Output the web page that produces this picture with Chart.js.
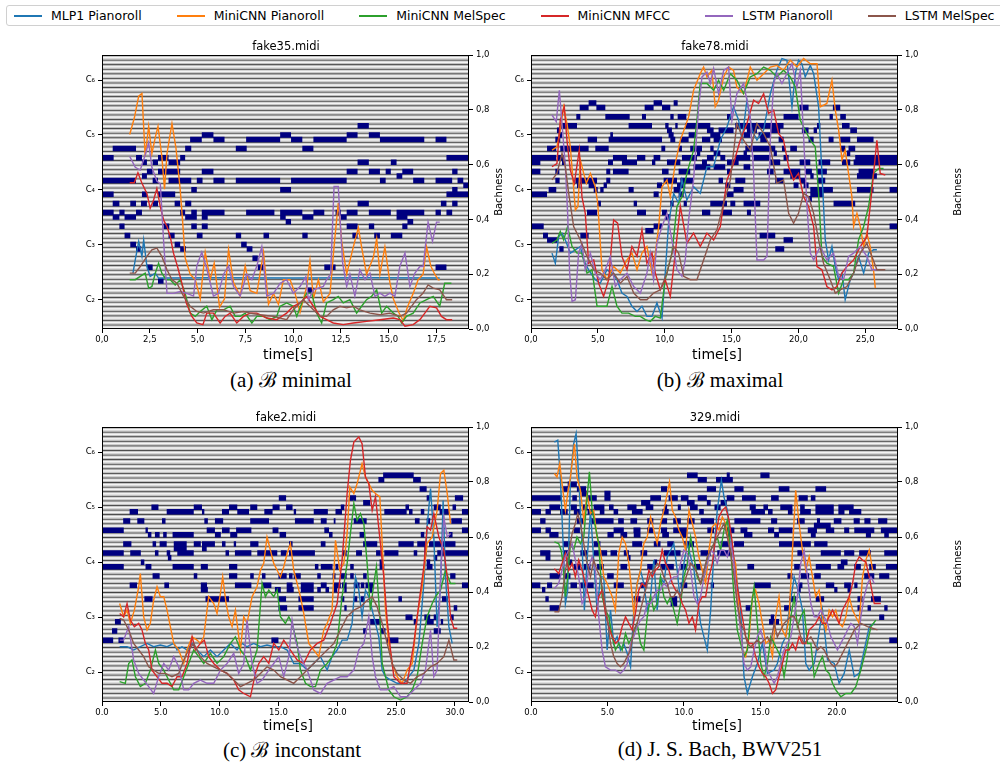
<!DOCTYPE html>
<html>
<head>
<meta charset="utf-8">
<script src="https://cdn.jsdelivr.net/npm/chart.js@4.4.1/dist/chart.umd.min.js"></script>
<style>
  body { margin: 0; background: #fff; width: 1000px; height: 765px; overflow: hidden; position: relative; font-family: "DejaVu Sans", sans-serif; }
  canvas { position: absolute; }
  .txt { position: absolute; transform: translate(-50%, -50%); white-space: nowrap; color: #000; }
  .title { font-size: 11.5px; }
  .xlabel { font-size: 14px; }
  .ylabel { font-size: 10px; transform: translate(-50%, -50%) rotate(-90deg); }
  .caption { font-family: "Liberation Serif", "DejaVu Serif", serif; font-size: 21px; }
  #legend { position: absolute; left: 6px; top: 5px; width: 1010px; height: 21px; border: 1px solid #d0d0d0; border-radius: 3px; display: flex; align-items: center; font-size: 12.5px; box-sizing: border-box; padding-left: 7px; white-space: nowrap; }
  #legend .item { display: flex; align-items: center; margin-right: 35px; flex-shrink: 0; white-space: nowrap; }
  #legend .swatch { width: 28px; height: 2px; margin-right: 9px; flex-shrink: 0; }
</style>
</head>
<body>
<div id="legend"></div>

<canvas id="chart-a" width="439" height="302" style="left:62px;top:45px"></canvas>
<canvas id="chart-b" width="439" height="302" style="left:491px;top:45px"></canvas>
<canvas id="chart-c" width="439" height="303" style="left:62px;top:417px"></canvas>
<canvas id="chart-d" width="439" height="303" style="left:491px;top:417px"></canvas>

<div class="txt title" style="left:286px;top:46px">fake35.midi</div>
<div class="txt title" style="left:715px;top:46px">fake78.midi</div>
<div class="txt title" style="left:286px;top:417px">fake2.midi</div>
<div class="txt title" style="left:715px;top:417px">329.midi</div>

<div class="txt xlabel" style="left:288px;top:354px">time[s]</div>
<div class="txt xlabel" style="left:717px;top:354px">time[s]</div>
<div class="txt xlabel" style="left:288px;top:725px">time[s]</div>
<div class="txt xlabel" style="left:717px;top:725px">time[s]</div>

<div class="txt ylabel" style="left:498px;top:192px">Bachness</div>
<div class="txt ylabel" style="left:957px;top:192px">Bachness</div>
<div class="txt ylabel" style="left:498px;top:564px">Bachness</div>
<div class="txt ylabel" style="left:957px;top:564px">Bachness</div>

<div class="txt caption" style="left:291px;top:379px">(a) ℬ minimal</div>
<div class="txt caption" style="left:720px;top:379px">(b) ℬ maximal</div>
<div class="txt caption" style="left:292px;top:749px">(c) ℬ inconstant</div>
<div class="txt caption" style="left:720px;top:749px">(d) J. S. Bach, BWV251</div>

<script>
const seriesNames = ["MLP1 Pianoroll", "MiniCNN Pianoroll", "MiniCNN MelSpec", "MiniCNN MFCC", "LSTM Pianoroll", "LSTM MelSpec"];
const seriesColors = ["#1f77b4", "#ff7f0e", "#2ca02c", "#d62728", "#9467bd", "#8c564b"];
const pitchTicks = [36, 48, 60, 72, 84];
const pitchLabels = ["C₂", "C₃", "C₄", "C₅", "C₆"];
const bachTicks = [0, 0.2, 0.4, 0.6, 0.8, 1.0];

// ---------- (a) fake35.midi ----------
const aTimeTicks = [0, 2.5, 5, 7.5, 10, 12.5, 15, 17.5];
// notes: [start, end, pitch]
const aNotes = [
  [13.37,13.96,74],
  [5.22,5.83,72],[9.32,9.89,72],[12.8,13.37,72],[13.96,14.54,72],
  [4.61,5.22,71],[5.83,6.41,71],[7.54,9.32,71],[9.89,10.48,71],[11.06,12.8,71],[14.54,16.86,71],[17.45,18.02,71],
  [0.56,1.78,69],[4.35,4.67,69],[7.0,7.57,69],[10.48,11.06,69],
  [0,0.61,67],[1.78,2.09,67],[2.93,3.48,67],[4.09,4.35,67],[18.02,19.2,67],
  [2.09,2.35,66],[2.65,2.93,66],[3.48,4.09,66],[13.37,13.96,66],[15.11,15.41,66],
  [2.35,2.65,64],[2.93,4.09,64],[5.22,5.83,64],[12.8,13.37,64],[13.96,14.54,64],[14.84,15.11,64],[15.71,16.28,64],[18.32,18.6,64],
  [2.09,2.35,63],[15.41,15.71,63],
  [0,1.78,62],[2.65,2.93,62],[3.48,4.67,62],[4.96,5.26,62],[5.83,6.41,62],[7.0,9.32,62],[9.89,12.8,62],[14.54,14.84,62],[16.28,16.86,62],[17.45,18.32,62],[18.6,18.9,62],
  [18.9,19.2,61],
  [4.67,4.96,60],[9.32,9.89,60],[18.32,18.6,60],
  [0,0.61,59],[2.09,2.35,59],[2.93,3.83,59],[18.02,19.2,59],
  [0.56,0.91,57],[1.48,1.78,57],[2.04,2.35,57],[2.65,2.93,57],[3.8,4.09,57],[4.35,4.67,57],[13.37,13.96,57],[17.73,18.02,57],[18.32,18.6,57],
  [0,0.61,55],[0.91,1.18,55],[1.78,2.09,55],[4.09,4.35,55],[4.67,4.96,55],[5.22,6.41,55],[7.54,9.02,55],[9.32,10.48,55],[11.06,11.63,55],[12.22,12.5,55],[12.8,13.37,55],[13.96,15.11,55],[15.41,16.86,55],[17.45,17.73,55],[18.02,18.32,55],
  [0.56,0.91,54],[1.18,1.78,54],[4.35,4.96,54],[5.22,5.53,54],[9.32,9.61,54],[10.48,11.06,54],[12.5,12.8,54],[15.41,15.98,54],
  [9.61,9.89,53],[15.98,16.28,53],
  [0.91,1.18,52],[3.22,3.52,52],[4.67,4.96,52],[5.22,5.53,52],[12.8,13.37,52],[13.96,14.24,52],[15.71,15.98,52],
  [1.18,1.48,50],[3.48,3.8,50],[4.96,5.26,50],[7.0,7.28,50],[8.45,8.74,50],[10.48,10.76,50],[13.1,13.37,50],[14.24,14.54,50],[15.11,15.71,50],
  [1.48,1.78,48],[3.8,4.09,48],[7.28,7.57,48],
  [1.78,2.05,47],[4.09,4.39,47],[7.57,7.87,47],
  [7.87,8.15,45],
  [2.35,2.65,43],[8.15,8.45,43],[11.63,12.22,43],[17.45,18.02,43],
  [2.93,3.22,40],
  [10.76,11.06,38]
];
// series: [time, bachness]
const aMlp = [[1.62,0.204],[1.74,0.252],[1.92,0.319],[2.09,0.265],[2.18,0.325],[2.35,0.228],[2.52,0.192],[2.79,0.204],[2.96,0.186],[3.22,0.186],[6.0,0.187],[10.0,0.186],[14.0,0.187],[17.67,0.186]];
const aCnnPiano = [[1.45,0.71],[1.69,0.77],[1.92,0.85],[2.09,0.86],[2.26,0.63],[2.44,0.74],[2.61,0.64],[2.79,0.70],[2.93,0.74],[3.13,0.63],[3.27,0.51],[3.40,0.64],[3.66,0.75],[3.87,0.66],[4.09,0.51],[4.21,0.40],[4.35,0.26],[4.61,0.20],[4.88,0.18],[5.14,0.11],[5.40,0.28],[5.66,0.18],[5.87,0.24],[6.15,0.08],[6.41,0.11],[6.62,0.29],[6.88,0.17],[7.23,0.12],[7.49,0.23],[7.75,0.14],[8.10,0.13],[8.45,0.28],[8.71,0.09],[8.97,0.13],[9.23,0.09],[9.49,0.18],[9.84,0.18],[10.10,0.13],[10.36,0.06],[10.71,0.155],[10.88,0.25],[11.06,0.11],[11.32,0.18],[11.58,0.10],[11.93,0.13],[12.14,0.30],[12.36,0.46],[12.54,0.32],[12.80,0.20],[13.15,0.30],[13.41,0.37],[13.58,0.30],[13.84,0.20],[14.19,0.26],[14.37,0.33],[14.54,0.20],[14.80,0.30],[15.06,0.17],[15.24,0.11],[15.53,0.06],[15.76,0.03],[15.98,0.08],[16.28,0.13],[16.54,0.18],[16.80,0.20],[16.98,0.30],[17.20,0.23],[17.41,0.20],[17.59,0.18],[17.67,0.18]];
const aCnnMel = [[1.45,0.18],[1.74,0.18],[2.0,0.192],[2.26,0.204],[2.44,0.149],[2.61,0.155],[2.79,0.204],[2.96,0.24],[3.13,0.204],[3.36,0.18],[3.57,0.18],[3.83,0.161],[4.09,0.18],[4.35,0.131],[4.61,0.058],[4.88,0.046],[5.14,0.064],[5.48,0.083],[5.75,0.034],[6.01,0.07],[6.36,0.07],[6.70,0.083],[6.97,0.046],[7.23,0.046],[7.49,0.058],[7.84,0.022],[8.10,0.046],[8.45,0.046],[8.79,0.034],[9.14,0.046],[9.32,0.083],[9.66,0.095],[10.01,0.083],[10.19,0.046],[10.45,0.095],[10.71,0.131],[10.97,0.131],[11.23,0.058],[11.49,0.022],[11.75,0.095],[12.10,0.107],[12.36,0.119],[12.62,0.095],[12.97,0.107],[13.32,0.058],[13.58,0.083],[13.84,0.107],[14.10,0.119],[14.37,0.143],[14.63,0.058],[14.89,0.083],[15.24,0.058],[15.50,0.046],[15.67,0.022],[15.93,0.046],[16.28,0.058],[16.63,0.095],[16.98,0.107],[17.33,0.119],[17.67,0.083],[17.93,0.167],[18.28,0.167]];
const aCnnMfcc = [[1.45,0.534],[1.69,0.534],[1.88,0.57],[2.09,0.532],[2.35,0.495],[2.52,0.441],[2.70,0.471],[2.87,0.513],[3.05,0.447],[3.22,0.398],[3.40,0.374],[3.57,0.337],[3.74,0.277],[3.95,0.228],[4.18,0.167],[4.41,0.095],[4.70,0.046],[4.96,0.022],[5.28,0.016],[5.48,0.058],[5.83,0.058],[6.18,0.022],[6.44,0.046],[6.70,0.058],[7.05,0.022],[7.40,0.046],[7.75,0.058],[8.10,0.058],[8.62,0.04],[9.14,0.034],[9.66,0.058],[10.01,0.083],[10.36,0.095],[10.71,0.119],[11.06,0.083],[11.41,0.046],[11.75,0.034],[12.10,0.022],[12.62,0.016],[13.15,0.022],[13.84,0.028],[14.54,0.034],[15.24,0.04],[15.58,0.034],[15.85,0.01],[16.28,0.016],[16.63,0.034],[16.89,0.058],[17.15,0.083],[17.50,0.077],[17.76,0.046],[18.02,0.034],[18.32,0.034]];
const aLstmPiano = [[1.45,0.63],[1.74,0.59],[2.0,0.58],[2.26,0.635],[2.44,0.68],[2.61,0.59],[2.87,0.54],[3.05,0.53],[3.22,0.325],[3.40,0.13],[3.74,0.13],[4.09,0.137],[4.44,0.13],[4.79,0.12],[4.96,0.23],[5.22,0.28],[5.48,0.22],[5.83,0.12],[6.09,0.13],[6.36,0.20],[6.62,0.23],[6.88,0.155],[7.23,0.12],[7.57,0.20],[7.84,0.18],[8.10,0.23],[8.36,0.30],[8.62,0.12],[8.97,0.13],[9.32,0.167],[9.66,0.18],[10.01,0.13],[10.36,0.155],[10.66,0.19],[10.80,0.107],[11.06,0.143],[11.58,0.155],[11.75,0.18],[11.96,0.20],[12.14,0.52],[12.36,0.52],[12.59,0.24],[12.80,0.155],[12.97,0.20],[13.23,0.12],[13.49,0.216],[13.76,0.18],[14.02,0.204],[14.28,0.119],[14.54,0.131],[14.80,0.119],[15.06,0.131],[15.32,0.119],[15.58,0.228],[15.85,0.277],[16.11,0.155],[16.37,0.204],[16.63,0.228],[16.80,0.228],[17.06,0.39],[17.29,0.32],[17.50,0.39],[17.67,0.39]];
const aLstmMel = [[1.45,0.204],[1.74,0.204],[2.0,0.228],[2.35,0.265],[2.61,0.289],[2.87,0.295],[3.13,0.265],[3.40,0.216],[3.66,0.18],[3.92,0.167],[4.27,0.119],[4.61,0.083],[4.96,0.064],[5.31,0.058],[5.83,0.07],[6.36,0.07],[6.88,0.058],[7.40,0.064],[7.75,0.058],[8.27,0.052],[8.97,0.046],[9.66,0.034],[10.01,0.07],[10.53,0.107],[11.06,0.07],[11.41,0.046],[11.75,0.046],[12.10,0.07],[12.45,0.083],[12.80,0.077],[13.15,0.083],[13.49,0.07],[14.02,0.058],[14.54,0.052],[15.06,0.058],[15.58,0.046],[15.93,0.058],[16.45,0.107],[16.80,0.131],[17.06,0.161],[17.33,0.149],[17.67,0.143],[18.02,0.107],[18.32,0.107]];

// ---------- (b) fake78.midi ----------
const bTimeTicks = [0, 5, 10, 15, 20, 25];
const bNotes = [
  [4.31,4.89,79],[9.17,9.8,79],[10.67,10.97,79],
  [3.64,4.31,78],[4.89,5.56,78],[8.5,9.17,78],[9.8,10.42,78],[20.09,20.76,78],[22.58,23.13,78],
  [3.39,3.69,76],[5.56,7.38,76],[8.3,8.6,76],[10.42,10.67,76],[10.97,11.62,76],[14.66,14.96,76],[18.89,20.01,76],[22.33,22.58,76],[23.13,23.55,76],
  [2.19,3.44,74],[7.3,9.05,74],[10.04,10.29,74],[10.79,10.97,74],[11.54,13.41,74],[15.28,18.89,74],[21.39,21.64,74],[23.26,23.83,74],
  [1.94,2.19,73],[10.17,10.54,73],[13.16,13.66,73],[14.03,15.15,73],[16.15,16.9,73],[17.9,18.64,73],[20.26,20.76,73],[21.14,21.39,73],[23.88,24.38,73],
  [2.07,2.32,72],[5.93,6.13,72],[10.29,10.67,72],[11.79,12.41,72],[13.41,14.16,72],[15.9,16.4,72],[17.02,17.9,72],
  [1.82,2.19,71],[4.24,4.94,71],[5.81,9.8,71],[10.42,10.79,71],[11.17,11.79,71],[12.79,13.41,71],[13.66,14.28,71],[17.15,17.65,71],[18.52,18.89,71],[20.76,21.14,71],[22.26,22.63,71],[23.13,23.88,71],[24.38,25.62,71],
  [1.2,1.89,69],[2.19,4.31,69],[4.81,5.81,69],[9.75,10.04,69],[11.04,11.29,69],[11.91,12.79,69],[13.41,13.66,69],[16.03,18.27,69],[18.77,19.02,69],[19.39,19.89,69],[23.13,23.5,69],[23.75,24.25,69],
  [12.41,12.66,68],[13.66,14.16,68],[15.9,16.15,68],[18.15,18.39,68],[23.63,23.88,68],
  [0,1.89,67],[1.99,2.44,67],[6.13,7.18,67],[7.93,8.55,67],[9.17,9.67,67],[11.29,12.41,67],[13.16,13.66,67],[14.16,14.53,67],[15.28,16.4,67],[16.65,17.9,67],[18.89,19.27,67],[24.25,27.45,67],
  [0,0.7,66],[2.32,2.57,66],[5.76,6.13,66],[6.8,7.93,66],[9.05,9.3,66],[10.17,11.17,66],[12.79,13.16,66],[14.66,15.53,66],[17.9,18.64,66],[20.09,20.89,66],[21.51,22.38,66],[23.26,23.88,66],[24.13,27.45,66],
  [12.16,13.41,65],[13.66,14.53,65],[15.9,16.4,65],
  [0,0.7,64],[1.82,2.12,64],[5.63,5.93,64],[6.13,7.3,64],[9.8,10.29,64],[11.04,11.91,64],[14.66,14.91,64],[17.65,18.15,64],[18.89,20.14,64],[20.51,21.01,64],[21.39,22.13,64],[24.5,25.62,64],
  [24.38,25.87,63],[19.39,20.14,63],[20.89,21.14,63],
  [1.82,2.14,62],[3.32,3.64,62],[3.69,4.94,62],[5.63,5.93,62],[9.92,10.92,62],[11.17,12.16,62],[14.03,14.36,62],[15.28,16.03,62],[18.27,18.89,62],[20.14,20.51,62],[21.39,22.01,62],
  [3.44,3.69,61],[4.31,4.81,61],[5.43,5.68,61],[9.42,9.8,61],[10.92,11.54,61],[14.53,14.91,61],[19.64,20.01,61],[20.39,20.76,61],
  [1.32,1.89,60],[4.69,4.99,60],[5.18,5.43,60],[7.3,7.68,60],[10.67,11.17,60],[15.15,15.9,60],[20.89,22.58,60],[24.38,25.62,60],[26.82,27.45,60],
  [0,1.2,59],[9.17,9.55,59],[11.04,11.42,59],[14.66,15.15,59],[20.89,21.88,59],
  [20.76,21.01,58],
  [4.94,5.23,57],[7.68,7.93,57],[10.42,10.67,57],[11.42,11.66,57],[13.41,14.66,57],[14.91,15.28,57],[15.9,17.15,57],[22.63,24.25,57],
  [4.19,4.94,55],[7.93,8.6,55],[9.8,10.17,55],[12.79,13.41,55],[14.28,15.03,55],[16.15,16.45,55],
  [10.04,10.42,54],
  [0,0.95,52],[9.17,9.8,52],[26.82,27.45,52],
  [8.55,9.17,51],
  [0.9,1.27,50],[3.69,4.31,50],[17.1,18.27,50],
  [1.2,1.99,49],[18.89,19.59,49],
  [2.12,2.44,47],[18.27,18.94,47]
];
const bMlp = [[1.57,0.277],[1.82,0.240],[2.07,0.337],[2.32,0.350],[2.57,0.325],[2.94,0.277],[3.32,0.289],[3.69,0.301],[3.94,0.252],[4.31,0.216],[4.81,0.18],[5.18,0.167],[5.68,0.216],[6.06,0.204],[6.43,0.18],[6.80,0.131],[7.18,0.119],[7.55,0.083],[7.93,0.064],[8.30,0.083],[8.67,0.046],[9.05,0.046],[9.42,0.095],[9.80,0.04],[10.04,0.204],[10.29,0.386],[10.67,0.495],[11.04,0.459],[11.29,0.544],[11.66,0.471],[12.16,0.519],[12.66,0.495],[13.16,0.592],[13.66,0.592],[14.16,0.689],[14.66,0.738],[15.15,0.811],[15.53,0.762],[15.78,0.689],[16.15,0.835],[16.53,0.726],[16.90,0.689],[17.40,0.726],[17.90,0.859],[18.39,0.944],[18.77,0.987],[19.14,0.981],[19.52,0.811],[19.77,0.932],[20.01,0.981],[20.26,0.968],[20.51,0.920],[20.89,0.962],[21.14,0.932],[21.51,0.811],[21.76,0.568],[22.01,0.325],[22.26,0.252],[22.51,0.301],[22.76,0.228],[23.01,0.18],[23.26,0.204],[23.50,0.107],[23.88,0.18],[24.13,0.204],[24.50,0.265],[24.88,0.204],[25.25,0.277],[25.62,0.289],[25.87,0.289]];
const bCnnPiano = [[1.57,0.653],[1.94,0.665],[2.19,0.726],[2.44,0.811],[2.69,0.75],[2.94,0.665],[3.14,0.544],[3.32,0.434],[3.51,0.447],[3.69,0.617],[3.94,0.568],[4.14,0.532],[4.44,0.568],[4.81,0.519],[4.99,0.459],[5.31,0.216],[5.68,0.18],[6.18,0.228],[6.68,0.204],[7.18,0.252],[7.55,0.277],[7.93,0.216],[8.30,0.277],[8.67,0.301],[9.05,0.204],[9.30,0.277],[9.55,0.374],[9.80,0.519],[10.17,0.544],[10.42,0.483],[10.79,0.604],[11.17,0.689],[11.79,0.774],[12.16,0.871],[12.66,0.932],[12.91,0.956],[13.16,0.92],[13.53,0.944],[13.78,0.811],[14.03,0.835],[14.41,0.92],[14.78,0.956],[15.15,0.944],[15.40,0.883],[15.90,0.859],[16.40,0.956],[16.90,0.908],[17.40,0.932],[17.90,0.956],[18.39,0.962],[18.89,0.944],[19.39,0.981],[19.89,0.956],[20.39,0.987],[20.89,0.968],[21.39,0.968],[21.64,0.811],[22.13,0.823],[22.51,0.908],[22.76,0.799],[23.01,0.726],[23.26,0.617],[23.50,0.653],[23.75,0.568],[24.0,0.483],[24.13,0.374],[24.38,0.422],[24.63,0.374],[24.88,0.301],[25.12,0.35],[25.37,0.301],[25.62,0.216],[25.75,0.149]];
const bCnnMel = [[1.57,0.313],[1.94,0.325],[2.19,0.356],[2.44,0.325],[2.74,0.374],[3.07,0.301],[3.44,0.277],[3.81,0.277],[4.19,0.204],[4.56,0.216],[4.94,0.083],[5.31,0.083],[5.68,0.083],[6.06,0.155],[6.43,0.083],[6.80,0.058],[7.30,0.058],[7.80,0.046],[8.18,0.046],[8.55,0.034],[8.92,0.028],[9.30,0.046],[9.67,0.04],[10.04,0.18],[10.54,0.277],[10.92,0.447],[11.29,0.483],[11.66,0.568],[12.16,0.653],[12.41,0.762],[12.66,0.896],[13.16,0.896],[13.66,0.871],[14.03,0.908],[14.41,0.871],[14.91,0.932],[15.40,0.908],[15.90,0.859],[16.40,0.92],[16.90,0.932],[17.40,0.956],[17.90,0.944],[18.39,0.92],[18.89,0.944],[19.39,0.92],[19.77,0.883],[20.14,0.762],[20.51,0.726],[20.89,0.689],[21.26,0.665],[21.51,0.495],[21.76,0.265],[22.13,0.240],[22.63,0.228],[23.01,0.131],[23.38,0.18],[23.75,0.18],[24.13,0.204],[24.50,0.325],[24.88,0.374],[25.25,0.447],[25.62,0.568],[26.00,0.586],[26.37,0.586]];
const bCnnMfcc = [[1.57,0.592],[1.94,0.604],[2.19,0.762],[2.49,0.811],[2.69,0.689],[2.94,0.58],[3.24,0.532],[3.61,0.653],[3.81,0.483],[4.06,0.422],[4.31,0.240],[4.69,0.252],[5.06,0.167],[5.43,0.119],[5.81,0.18],[6.18,0.398],[6.48,0.386],[6.80,0.265],[7.18,0.216],[7.55,0.301],[7.93,0.265],[8.30,0.362],[8.67,0.240],[9.05,0.277],[9.30,0.204],[9.67,0.143],[10.04,0.18],[10.42,0.119],[10.79,0.277],[11.17,0.447],[11.66,0.313],[12.16,0.35],[12.66,0.301],[13.16,0.35],[13.66,0.325],[14.16,0.374],[14.66,0.544],[15.15,0.604],[15.65,0.689],[16.15,0.75],[16.65,0.835],[17.02,0.823],[17.40,0.859],[17.77,0.787],[18.15,0.799],[18.52,0.714],[18.89,0.689],[19.27,0.592],[19.64,0.544],[20.01,0.568],[20.39,0.483],[20.76,0.447],[21.14,0.374],[21.39,0.228],[21.76,0.216],[22.13,0.155],[22.51,0.143],[22.88,0.155],[23.26,0.204],[23.63,0.228],[24.13,0.252],[24.63,0.301],[25.12,0.337],[25.50,0.507],[25.87,0.689],[26.12,0.568],[26.50,0.562]];
const bLstmPiano = [[1.57,0.781],[1.89,0.757],[2.12,0.871],[2.32,0.75],[2.57,0.592],[2.74,0.422],[2.89,0.204],[3.07,0.101],[3.32,0.107],[3.56,0.277],[3.81,0.313],[4.06,0.216],[4.44,0.277],[4.81,0.204],[5.18,0.18],[5.56,0.216],[5.93,0.265],[6.31,0.155],[6.68,0.18],[7.18,0.204],[7.68,0.155],[8.18,0.131],[8.67,0.204],[8.92,0.277],[9.17,0.18],[9.42,0.313],[9.80,0.374],[10.17,0.422],[10.54,0.325],[10.92,0.216],[11.29,0.192],[11.54,0.252],[11.79,0.398],[12.16,0.544],[12.54,0.811],[12.79,0.92],[13.16,0.938],[13.41,0.896],[13.66,0.95],[14.03,0.859],[14.41,0.944],[14.78,0.956],[15.03,0.762],[15.40,0.859],[15.90,0.896],[16.40,0.774],[16.65,0.568],[16.90,0.252],[17.40,0.252],[17.65,0.265],[17.90,0.689],[18.15,0.896],[18.39,0.932],[18.77,0.896],[19.14,0.932],[19.52,0.968],[19.89,0.883],[20.14,0.944],[20.39,0.701],[20.64,0.447],[20.89,0.277],[21.14,0.252],[21.64,0.301],[22.13,0.252],[22.63,0.277],[23.01,0.192],[23.38,0.18],[23.75,0.265],[24.13,0.277],[24.63,0.301],[25.12,0.265],[25.50,0.216],[25.87,0.216]];
const bLstmMel = [[1.57,0.544],[1.94,0.568],[2.32,0.641],[2.57,0.592],[2.82,0.495],[3.19,0.374],[3.69,0.325],[4.19,0.265],[4.69,0.216],[5.18,0.204],[5.68,0.18],[6.18,0.204],[6.68,0.167],[7.18,0.192],[7.68,0.131],[8.18,0.107],[8.67,0.107],[9.17,0.131],[9.67,0.143],[10.17,0.204],[10.67,0.301],[11.04,0.277],[11.42,0.192],[11.91,0.18],[12.41,0.18],[12.91,0.252],[13.41,0.325],[13.91,0.362],[14.41,0.459],[14.91,0.544],[15.40,0.75],[15.90,0.689],[16.40,0.653],[16.90,0.75],[17.40,0.714],[17.90,0.665],[18.39,0.532],[18.89,0.544],[19.27,0.422],[19.64,0.386],[20.01,0.422],[20.39,0.495],[20.76,0.483],[21.14,0.422],[21.51,0.325],[21.88,0.240],[22.38,0.18],[22.76,0.131],[23.13,0.143],[23.63,0.155],[24.13,0.204],[24.63,0.277],[25.12,0.313],[25.50,0.265],[25.87,0.216],[26.50,0.216]];

// ---------- (c) fake2.midi ----------
const cTimeTicks = [0, 5, 10, 15, 20, 25, 30];
const cNotes = [
  [23.9,26.5,79],
  [23.5,24.0,78],[26.45,27.1,78],
  [27.0,27.6,76],
  [15.03,15.65,74],[21.0,21.6,74],[27.6,27.9,74],[30.0,30.7,74],
  [22.2,22.8,73],
  [4.2,4.8,72],[7.8,8.5,72],[10.8,11.5,72],[12.6,13.2,72],[14.5,15.1,72],[15.65,16.2,72],[20.3,20.6,72],[25.8,26.1,72],[28.2,28.8,72],[29.8,30.1,72],
  [2.35,3.06,71],[5.5,7.8,71],[8.5,8.7,71],[10.2,10.8,71],[11.5,12.5,71],[13.8,14.5,71],[16.3,16.5,71],[18.0,19.2,71],[19.85,20.4,71],[24.0,25.9,71],[26.1,26.4,71],[27.1,27.4,71],[28.7,29.5,71],[30.6,31.2,71],
  [1.8,2.4,69],[3.0,3.6,69],[5.1,5.4,69],[8.7,9.0,69],[9.6,10.3,69],[12.6,14.2,69],[16.4,18.0,69],[18.6,19.1,69],[19.7,19.85,69],[21.4,22.5,69],[26.6,27.0,69],[27.6,27.9,69],[29.7,30.6,69],
  [0,1.85,67],[3.7,3.9,67],[8.9,9.6,67],[10.2,10.85,67],[11.4,12.7,67],[14.5,15.0,67],[18.9,19.3,67],[30.6,31.2,67],
  [3.9,4.2,66],[4.5,4.9,66],[5.2,5.5,66],[6.0,7.8,66],[9.6,10.1,66],[10.9,11.5,66],[15.1,15.65,66],[19.3,19.6,66],[21.9,22.3,66],[27.1,27.4,66],[29.5,29.8,66],
  [1.8,2.5,64],[4.3,4.6,64],[4.9,5.5,64],[6.1,7.2,64],[7.8,8.4,64],[8.5,9.1,64],[9.1,9.6,64],[10.2,10.5,64],[11.2,11.4,64],[12.6,13.3,64],[15.9,16.2,64],[18.6,19.0,64],[22.2,23.4,64],[25.2,26.5,64],[26.8,27.6,64],[27.8,30.05,64],
  [6.1,7.2,63],[8.5,8.9,63],[27.4,27.6,63],
  [0,1.85,62],[2.4,3.3,62],[4.5,4.8,62],[5.5,5.8,62],[6.4,7.8,62],[10.5,10.8,62],[11.3,12.7,62],[13.2,14.9,62],[15.2,15.7,62],[15.9,18.1,62],[20.4,20.8,62],[21.6,22.1,62],[23.3,23.7,62],[24.0,25.2,62],[26.5,26.8,62],[27.4,27.6,62],[28.5,31.2,62],
  [5.6,5.9,61],[28.2,28.5,61],
  [3.3,3.6,60],[23.6,23.9,60],[27.6,27.9,60],
  [0,1.85,59],[3.7,4.2,59],[6.0,7.8,59],[8.4,9.0,59],[10.8,11.5,59],[18.1,18.4,59],[18.6,19.6,59],[19.85,20.1,59],[21.1,21.4,59],[23.6,24.0,59],[27.6,28.1,59],
  [4.3,4.9,57],[7.8,8.1,57],[10.8,11.5,57],[12.6,12.9,57],[13.6,13.9,57],[15.0,15.7,57],[15.9,16.2,57],[16.3,16.9,57],[18.3,18.6,57],[19.6,19.85,57],[20.3,20.8,57],[21.1,21.4,57],[22.2,22.5,57],[29.6,30.05,57],
  [2.35,2.98,55],[5.3,5.7,55],[8.4,8.93,55],[11.3,12.7,55],[13.6,14.4,55],[15.7,16.2,55],[16.9,18.0,55],[18.6,19.1,55],[19.7,20.3,55],[20.4,20.8,55],[21.4,21.9,55],[22.0,22.3,55],[22.4,23.1,55],[30.6,31.2,55],
  [8.4,9.0,54],[14.7,15.2,54],[15.7,16.3,54],[16.9,18.0,54],[18.3,18.6,54],[19.0,19.3,54],[19.7,20.0,54],[20.6,20.8,54],[22.7,23.0,54],
  [3.6,4.3,52],[8.8,10.8,52],[15.0,15.65,52],[16.7,18.0,52],[20.3,20.6,52],[21.4,21.7,52],[22.0,22.3,52],[25.2,25.5,52],[28.9,29.4,52],
  [15.0,15.74,50],[16.7,18.0,50],[20.6,20.8,50],[29.9,30.2,50],
  [25.8,26.4,48],[27.4,27.9,48],[28.2,28.5,48],[29.6,29.9,48],
  [1.1,1.6,47],[22.8,23.3,47],[23.1,23.7,47],[26.5,26.8,47],[27.6,28.2,47],[28.8,29.0,47],
  [0.85,1.3,45],[22.2,22.5,45],[23.7,24.1,45],[28.2,28.8,45],
  [0,0.95,43],[1.4,1.85,43],[14.4,15.0,43],[24.2,25.2,43]
];
const cMlp = [[1.50,0.201],[2.13,0.201],[2.69,0.189],[3.26,0.201],[3.83,0.213],[4.39,0.201],[4.96,0.207],[5.53,0.201],[6.10,0.213],[6.38,0.189],[6.80,0.201],[7.23,0.189],[7.66,0.213],[8.08,0.189],[8.65,0.165],[9.21,0.189],[9.78,0.165],[10.35,0.189],[10.92,0.213],[11.48,0.189],[11.91,0.213],[12.33,0.201],[12.90,0.213],[13.47,0.201],[14.03,0.207],[14.60,0.201],[15.17,0.201],[15.74,0.189],[16.30,0.140],[16.87,0.140],[17.44,0.116],[18.00,0.140],[18.57,0.165],[19.14,0.116],[19.56,0.165],[19.99,0.189],[20.41,0.225],[20.84,0.225],[21.26,0.286],[21.55,0.455],[21.83,0.407],[22.11,0.310],[22.40,0.407],[22.68,0.383],[22.97,0.334],[23.25,0.286],[23.53,0.237],[23.82,0.116],[24.10,0.092],[24.53,0.080],[25.09,0.068],[25.66,0.068],[26.08,0.092],[26.51,0.116],[26.94,0.213],[27.36,0.431],[27.64,0.637],[27.93,0.776],[28.21,0.600],[28.49,0.274],[28.78,0.419],[29.00,0.733],[29.20,0.455],[29.49,0.274],[29.77,0.213]];
const cCnnPiano = [[1.50,0.358],[1.84,0.310],[2.13,0.334],[2.41,0.286],[2.75,0.334],[3.12,0.419],[3.26,0.467],[3.54,0.310],[3.83,0.262],[4.11,0.286],[4.39,0.370],[4.68,0.419],[4.96,0.383],[5.25,0.383],[5.53,0.334],[5.81,0.274],[6.10,0.213],[6.52,0.189],[6.95,0.140],[7.23,0.189],[7.66,0.237],[8.08,0.225],[8.36,0.213],[8.65,0.237],[9.07,0.383],[9.50,0.358],[9.78,0.322],[10.07,0.395],[10.26,0.455],[10.55,0.358],[10.77,0.310],[11.06,0.274],[11.34,0.334],[11.77,0.189],[12.05,0.310],[12.33,0.286],[12.76,0.383],[13.18,0.419],[13.47,0.479],[13.75,0.504],[14.03,0.600],[14.32,0.552],[14.60,0.504],[14.89,0.479],[15.17,0.455],[15.45,0.492],[15.74,0.540],[16.02,0.576],[16.30,0.479],[16.59,0.431],[16.87,0.383],[17.15,0.322],[17.58,0.213],[18.00,0.189],[18.43,0.165],[18.85,0.262],[19.14,0.286],[19.56,0.334],[19.85,0.588],[20.22,0.479],[20.56,0.504],[20.84,0.613],[21.07,0.782],[21.41,0.758],[21.69,0.794],[22.11,0.867],[22.40,0.818],[22.68,0.794],[22.97,0.770],[23.25,0.758],[23.62,0.746],[23.82,0.576],[24.10,0.334],[24.38,0.213],[24.67,0.140],[25.09,0.092],[25.52,0.068],[25.94,0.116],[26.37,0.140],[26.79,0.310],[27.22,0.419],[27.64,0.576],[28.07,0.600],[28.49,0.697],[28.78,0.831],[29.06,0.843],[29.35,0.758],[29.63,0.649]];
const cCnnMel = [[1.50,0.074],[1.98,0.068],[2.27,0.140],[2.55,0.153],[2.84,0.092],[3.26,0.056],[3.69,0.068],[4.11,0.116],[4.54,0.189],[4.82,0.140],[5.25,0.116],[5.67,0.080],[6.10,0.044],[6.52,0.044],[6.95,0.092],[7.37,0.140],[7.80,0.189],[8.22,0.165],[8.65,0.140],[9.21,0.177],[9.78,0.140],[10.35,0.165],[10.92,0.213],[11.34,0.237],[11.77,0.189],[12.19,0.165],[12.62,0.116],[13.18,0.189],[13.61,0.431],[13.89,0.383],[14.18,0.407],[14.60,0.383],[14.89,0.407],[15.17,0.310],[15.59,0.286],[15.88,0.310],[16.16,0.286],[16.59,0.213],[16.87,0.116],[17.30,0.068],[17.72,0.056],[18.15,0.056],[18.57,0.116],[19.14,0.140],[19.56,0.165],[19.99,0.213],[20.41,0.383],[20.84,0.504],[21.12,0.613],[21.41,0.722],[21.69,0.661],[21.97,0.685],[22.26,0.649],[22.54,0.504],[22.82,0.334],[23.11,0.431],[23.33,0.492],[23.62,0.310],[23.82,0.140],[24.10,0.092],[24.38,0.044],[24.81,0.019],[25.38,0.007],[25.94,0.019],[26.37,0.044],[26.79,0.092],[27.22,0.213],[27.64,0.310],[28.07,0.358],[28.35,0.383],[28.78,0.407],[29.20,0.479],[29.63,0.431],[30.05,0.431]];
const cCnnMfcc = [[1.50,0.322],[1.84,0.310],[2.13,0.358],[2.41,0.298],[2.75,0.274],[3.12,0.286],[3.40,0.262],[3.69,0.213],[3.97,0.189],[4.25,0.116],[4.68,0.092],[5.10,0.068],[5.53,0.068],[5.95,0.056],[6.38,0.092],[6.80,0.092],[7.23,0.140],[7.66,0.237],[7.94,0.189],[8.36,0.213],[8.70,0.225],[9.07,0.165],[9.50,0.140],[10.07,0.116],[10.63,0.104],[11.20,0.080],[11.62,0.044],[12.05,0.031],[12.62,0.019],[13.04,0.104],[13.33,0.140],[13.75,0.165],[14.18,0.140],[14.60,0.213],[15.03,0.189],[15.45,0.225],[16.02,0.189],[16.59,0.153],[17.15,0.140],[17.72,0.189],[18.29,0.213],[18.85,0.225],[19.42,0.286],[19.99,0.358],[20.41,0.516],[20.84,0.758],[21.12,0.879],[21.41,0.945],[21.83,0.964],[22.11,0.939],[22.40,0.818],[22.68,0.794],[22.97,0.697],[23.25,0.746],[23.67,0.576],[23.96,0.455],[24.24,0.298],[24.53,0.189],[24.81,0.092],[25.38,0.068],[25.94,0.068],[26.51,0.213],[26.94,0.358],[27.36,0.492],[27.64,0.637],[27.93,0.625],[28.21,0.685],[28.64,0.600],[29.06,0.552],[29.35,0.455],[29.63,0.310],[29.91,0.268],[30.20,0.268]];
const cLstmPiano = [[1.50,0.225],[1.84,0.225],[2.27,0.274],[2.69,0.153],[3.12,0.104],[3.54,0.080],[3.97,0.056],[4.39,0.031],[4.82,0.092],[5.25,0.140],[5.67,0.116],[6.10,0.165],[6.52,0.128],[6.95,0.044],[7.37,0.044],[7.80,0.068],[8.36,0.080],[8.93,0.068],[9.50,0.068],[10.07,0.116],[10.63,0.140],[11.20,0.177],[11.62,0.104],[12.05,0.140],[12.33,0.298],[12.76,0.140],[13.18,0.068],[13.61,0.080],[14.18,0.116],[14.60,0.140],[15.03,0.165],[15.45,0.092],[15.88,0.165],[16.16,0.298],[16.44,0.225],[16.87,0.165],[17.44,0.116],[18.00,0.044],[18.57,0.031],[19.14,0.068],[19.71,0.080],[20.27,0.092],[20.84,0.092],[21.41,0.116],[21.83,0.189],[22.26,0.213],[22.68,0.310],[22.97,0.165],[23.25,0.092],[23.67,0.044],[24.24,0.044],[24.81,0.056],[25.38,0.019],[25.94,0.019],[26.51,0.044],[27.08,0.068],[27.50,0.116],[27.93,0.261],[28.21,0.092],[28.49,0.116],[28.78,0.455],[29.06,0.673],[29.35,0.600],[29.63,0.613]];
const cLstmMel = [[1.50,0.304],[1.84,0.298],[2.27,0.262],[2.69,0.213],[3.12,0.189],[3.54,0.165],[3.97,0.128],[4.39,0.116],[4.82,0.104],[5.39,0.104],[5.95,0.092],[6.52,0.104],[6.95,0.153],[7.37,0.189],[7.80,0.213],[8.36,0.165],[8.93,0.140],[9.50,0.128],[10.07,0.116],[10.63,0.104],[11.20,0.080],[11.77,0.056],[12.33,0.068],[12.90,0.080],[13.47,0.104],[14.03,0.128],[14.60,0.116],[15.17,0.092],[15.74,0.080],[16.30,0.068],[16.87,0.092],[17.44,0.116],[18.00,0.140],[18.57,0.165],[19.14,0.189],[19.71,0.213],[20.27,0.262],[20.84,0.310],[21.41,0.334],[21.97,0.346],[22.54,0.370],[22.97,0.383],[23.39,0.346],[23.82,0.286],[24.24,0.213],[24.67,0.140],[25.09,0.104],[25.66,0.080],[26.23,0.068],[26.79,0.092],[27.36,0.104],[27.93,0.128],[28.49,0.140],[29.06,0.165],[29.49,0.225],[29.91,0.153],[30.20,0.153]];

// ---------- (d) 329.midi ----------
const dTimeTicks = [0, 5, 10, 15, 20];
const dNotes = [
  [10.2,10.9,79],[12.8,13.0,79],[15.0,15.6,79],
  [10.9,11.5,78],[12.1,13.2,78],
  [2.4,3.0,77],
  [2.1,2.4,76],[3.0,3.6,76],[8.5,8.9,76],[11.5,12.1,76],[13.3,13.9,76],[16.2,16.9,76],[18.6,19.3,76],
  [3.3,3.7,75],[4.8,5.2,75],
  [0,2.0,74],[2.7,3.0,74],[3.7,4.3,74],[4.8,5.2,74],[7.8,8.5,74],[9.0,9.6,74],[9.8,10.3,74],[10.9,11.5,74],[12.8,13.3,74],[13.8,14.7,74],[15.7,16.2,74],[17.5,18.1,74],[18.3,18.6,74],
  [7.2,7.8,73],[10.2,10.7,73],[11.5,11.75,73],[12.4,12.8,73],
  [1.2,1.9,72],[2.6,3.0,72],[3.4,3.7,72],[4.1,4.8,72],[5.1,5.4,72],[6.3,6.9,72],[7.5,8.0,72],[8.7,8.9,72],[9.6,9.8,72],[10.4,10.9,72],[12.0,12.4,72],[14.3,14.7,72],[15.2,15.5,72],[16.3,17.1,72],[17.6,17.9,72],[18.6,19.8,72],[20.1,20.5,72],[20.5,21.1,72],
  [0,0.65,71],[0.95,1.3,71],[1.9,2.4,71],[2.8,3.2,71],[3.7,4.1,71],[4.5,4.8,71],[5.4,5.7,71],[6.6,7.3,71],[8.6,9.0,71],[11.0,11.3,71],[14.4,15.3,71],[15.5,15.8,71],[16.8,17.1,71],[17.6,18.3,71],[18.6,19.8,71],[20.1,20.5,71],[20.8,21.6,71],
  [0.6,0.95,69],[3.0,3.45,69],[3.9,5.4,69],[5.7,6.07,69],[6.5,6.94,69],[7.6,8.0,69],[8.5,8.9,69],[9.3,9.8,69],[10.2,10.7,69],[11.1,11.97,69],[13.3,15.0,69],[15.7,16.1,69],[17.4,17.9,69],[18.7,18.9,69],[19.8,20.3,69],[21.1,21.5,69],[21.8,22.2,69],[22.7,23.3,69],
  [18.5,19.6,68],
  [0,0.65,67],[0.95,1.3,67],[2.8,3.2,67],[5.4,6.07,67],[6.7,7.16,67],[7.6,8.0,67],[8.5,8.9,67],[9.3,10.2,67],[11.53,11.97,67],[12.8,13.3,67],[13.7,14.15,67],[15.5,15.9,67],[16.2,17.1,67],[18.1,18.7,67],[19.28,19.83,67],[20.48,20.81,67],[21.14,22.45,67],[22.88,24.0,67],
  [1.2,1.8,66],[5.0,5.41,66],[5.85,6.29,66],[6.72,7.16,66],[8.58,9.02,66],[9.78,10.22,66],[12.84,13.06,66],[13.93,14.48,66],[15.9,16.22,66],[18.3,18.62,66],[21.9,22.23,66],[23.1,23.4,66],
  [2.1,2.58,64],[4.1,4.54,64],[6.62,7.27,64],[8.03,8.47,64],[8.91,9.34,64],[10.0,10.66,64],[12.4,13.06,64],[13.28,13.93,64],[16.22,18.3,64],[18.52,19.39,64],
  [0.6,1.27,62],[2.1,2.47,62],[3.23,3.67,62],[4.1,4.98,62],[5.2,5.63,62],[6.07,6.4,62],[7.16,7.6,62],[8.69,9.78,62],[11.09,11.75,62],[12.18,13.28,62],[17.42,17.86,62],[18.95,20.26,62],[20.48,21.14,62],[21.46,22.23,62],[23.1,24.0,62],
  [0.95,1.27,61],[6.29,6.51,61],
  [2.36,2.69,60],[8.03,8.25,60],[20.26,20.7,60],
  [2.79,3.23,59],[3.45,3.89,59],[4.32,4.76,59],[5.85,6.29,59],[7.6,8.03,59],[8.47,9.34,59],[9.78,10.22,59],[10.66,11.09,59],[14.15,14.59,59],[17.21,17.64,59],[18.62,19.61,59],[20.04,20.48,59],[21.14,21.57,59],[22.12,22.55,59],[23.21,24.0,59],
  [1.22,1.92,57],[2.14,2.58,57],[4.98,5.41,57],[16.77,17.1,57],[17.64,18.19,57],[18.52,18.95,57],[21.79,22.45,57],[22.77,23.43,57],
  [0,0.61,55],[1.05,1.38,55],[2.58,3.01,55],[3.23,4.1,55],[5.41,6.07,55],[7.16,7.6,55],[9.78,10.22,55],[11.75,11.97,55],[14.59,15.46,55],[15.46,15.68,55],[17.53,17.75,55],[19.28,19.83,55],[20.48,20.92,55],[21.14,21.35,55],
  [0.72,0.94,54],[17.42,17.64,54],[19.83,20.04,54],[20.7,20.92,54],
  [0.94,1.16,52],[6.72,7.16,52],[9.13,9.56,52],[16.88,17.32,52],[18.62,19.17,52],[21.35,21.68,52],[22.23,22.88,52],
  [9.13,9.56,51],
  [1.22,1.86,50],[14.04,14.37,50],[16.55,16.99,50],[21.35,21.57,50],[22.01,22.23,50],[23.1,23.32,50],
  [15.68,15.9,48],[22.77,23.1,48],
  [15.57,16.22,47],
  [23.43,24.0,43]
];
const dMlp = [[1.53,0.945],[1.75,0.952],[1.92,0.818],[2.10,0.576],[2.25,0.358],[2.40,0.407],[2.58,0.818],[2.79,0.939],[2.95,0.976],[3.12,0.818],[3.34,0.576],[3.49,0.334],[3.67,0.516],[3.89,0.697],[4.10,0.516],[4.32,0.334],[4.54,0.455],[4.76,0.455],[4.98,0.189],[5.20,0.334],[5.41,0.213],[5.63,0.237],[5.85,0.189],[6.07,0.213],[6.29,0.177],[6.51,0.128],[6.72,0.334],[6.94,0.431],[7.16,0.479],[7.38,0.431],[7.60,0.334],[7.82,0.383],[8.03,0.516],[8.25,0.334],[8.47,0.455],[8.69,0.431],[8.91,0.528],[9.13,0.552],[9.34,0.576],[9.56,0.479],[9.78,0.358],[10.00,0.504],[10.22,0.576],[10.44,0.528],[10.66,0.479],[10.87,0.383],[11.09,0.286],[11.31,0.237],[11.53,0.189],[11.75,0.334],[11.97,0.552],[12.18,0.697],[12.45,0.806],[12.62,0.746],[12.84,0.697],[13.17,0.552],[13.38,0.479],[13.71,0.334],[13.93,0.092],[14.15,0.031],[14.48,0.092],[14.80,0.140],[15.13,0.213],[15.46,0.104],[15.90,0.116],[16.11,0.140],[16.44,0.213],[16.66,0.237],[16.88,0.334],[17.21,0.455],[17.53,0.395],[17.75,0.334],[17.97,0.140],[18.19,0.116],[18.52,0.140],[18.73,0.213],[19.06,0.334],[19.39,0.153],[19.83,0.140],[20.15,0.068],[20.48,0.104],[20.81,0.189],[21.14,0.092],[21.46,0.104],[21.79,0.189],[22.12,0.274],[22.45,0.286]];
const dCnnPiano = [[1.53,0.831],[1.70,0.818],[1.88,0.867],[2.03,0.794],[2.25,0.697],[2.40,0.758],[2.58,0.818],[2.84,0.939],[3.01,0.818],[3.23,0.770],[3.45,0.661],[3.67,0.758],[3.89,0.685],[4.10,0.697],[4.32,0.600],[4.54,0.552],[4.76,0.455],[4.98,0.431],[5.31,0.383],[5.52,0.334],[5.74,0.540],[5.96,0.600],[6.18,0.576],[6.40,0.504],[6.62,0.383],[6.72,0.322],[6.94,0.431],[7.16,0.479],[7.38,0.576],[7.60,0.600],[7.82,0.673],[8.03,0.625],[8.25,0.576],[8.47,0.649],[8.69,0.697],[8.91,0.758],[9.06,0.800],[9.24,0.697],[9.45,0.673],[9.67,0.625],[9.89,0.600],[10.11,0.552],[10.33,0.697],[10.55,0.649],[10.76,0.600],[10.98,0.528],[11.20,0.479],[11.42,0.431],[11.64,0.552],[11.86,0.637],[12.07,0.649],[12.29,0.625],[12.51,0.673],[12.73,0.649],[12.95,0.576],[13.17,0.540],[13.38,0.504],[13.60,0.334],[13.82,0.189],[14.04,0.165],[14.26,0.237],[14.48,0.383],[14.69,0.407],[14.91,0.358],[15.13,0.286],[15.35,0.213],[15.57,0.225],[15.79,0.165],[16.00,0.310],[16.22,0.383],[16.44,0.262],[16.66,0.237],[16.88,0.310],[17.10,0.552],[17.31,0.770],[17.53,0.649],[17.75,0.552],[17.97,0.479],[18.19,0.528],[18.41,0.455],[18.62,0.383],[18.84,0.407],[19.06,0.310],[19.28,0.261],[19.50,0.334],[19.72,0.310],[19.93,0.334],[20.15,0.286],[20.37,0.274],[20.59,0.310],[20.81,0.383],[21.03,0.334],[21.24,0.310],[21.46,0.286],[21.68,0.455],[21.90,0.516],[22.12,0.552],[22.34,0.479]];
const dCnnMel = [[1.53,0.582],[1.81,0.576],[1.97,0.552],[2.10,0.504],[2.25,0.383],[2.40,0.455],[2.58,0.576],[2.79,0.552],[3.01,0.600],[3.23,0.576],[3.45,0.600],[3.67,0.746],[3.82,0.837],[4.00,0.697],[4.21,0.637],[4.43,0.576],[4.65,0.383],[4.87,0.334],[5.09,0.310],[5.31,0.237],[5.52,0.189],[5.74,0.213],[5.96,0.189],[6.18,0.249],[6.40,0.213],[6.62,0.237],[6.94,0.286],[7.16,0.213],[7.38,0.189],[7.60,0.310],[7.82,0.383],[8.03,0.334],[8.25,0.358],[8.47,0.455],[8.69,0.383],[8.91,0.358],[9.13,0.383],[9.34,0.334],[9.56,0.286],[9.78,0.358],[10.00,0.455],[10.22,0.504],[10.44,0.600],[10.66,0.528],[10.87,0.455],[11.09,0.431],[11.31,0.455],[11.53,0.516],[11.75,0.552],[11.97,0.576],[12.18,0.600],[12.40,0.552],[12.62,0.625],[12.84,0.661],[13.06,0.552],[13.28,0.383],[13.49,0.262],[13.71,0.213],[13.93,0.165],[14.15,0.189],[14.37,0.334],[14.59,0.419],[14.80,0.286],[15.02,0.140],[15.24,0.092],[15.46,0.140],[15.68,0.237],[15.90,0.213],[16.11,0.189],[16.33,0.165],[16.55,0.092],[16.77,0.165],[16.99,0.310],[17.21,0.383],[17.42,0.274],[17.64,0.310],[17.86,0.334],[18.08,0.213],[18.30,0.213],[18.52,0.092],[18.84,0.140],[19.06,0.165],[19.28,0.116],[19.50,0.104],[19.72,0.068],[19.93,0.044],[20.26,0.019],[20.59,0.031],[20.92,0.031],[21.24,0.056],[21.57,0.116],[21.90,0.189],[22.23,0.274],[22.55,0.298]];
const dCnnMfcc = [[1.53,0.485],[1.81,0.467],[2.03,0.504],[2.25,0.540],[2.47,0.479],[2.69,0.504],[2.90,0.455],[3.12,0.516],[3.34,0.479],[3.56,0.431],[3.78,0.383],[4.00,0.334],[4.21,0.310],[4.43,0.383],[4.65,0.407],[4.87,0.322],[5.09,0.274],[5.31,0.237],[5.52,0.213],[5.74,0.225],[5.96,0.274],[6.18,0.310],[6.40,0.286],[6.62,0.262],[6.83,0.322],[7.05,0.407],[7.27,0.431],[7.49,0.419],[7.71,0.479],[7.93,0.455],[8.14,0.479],[8.36,0.492],[8.58,0.552],[8.80,0.504],[9.02,0.479],[9.24,0.431],[9.45,0.407],[9.67,0.395],[9.89,0.358],[10.11,0.334],[10.33,0.286],[10.55,0.310],[10.76,0.262],[10.98,0.358],[11.20,0.383],[11.42,0.383],[11.64,0.455],[11.86,0.504],[12.07,0.600],[12.29,0.673],[12.51,0.697],[12.73,0.709],[12.95,0.661],[13.17,0.576],[13.38,0.455],[13.60,0.383],[13.82,0.310],[14.04,0.237],[14.26,0.213],[14.48,0.213],[14.69,0.165],[14.91,0.128],[15.13,0.104],[15.35,0.092],[15.57,0.068],[15.79,0.031],[16.00,0.044],[16.22,0.092],[16.44,0.140],[16.66,0.189],[16.88,0.189],[17.10,0.213],[17.31,0.189],[17.53,0.237],[17.75,0.213],[17.97,0.213],[18.19,0.262],[18.41,0.274],[18.62,0.286],[18.84,0.310],[19.06,0.286],[19.28,0.286],[19.50,0.310],[19.72,0.334],[19.93,0.310],[20.15,0.286],[20.37,0.334],[20.59,0.358],[20.81,0.383],[21.03,0.431],[21.24,0.504],[21.46,0.528],[21.68,0.516],[21.90,0.509],[22.12,0.455],[22.45,0.358],[22.88,0.358]];
const dLstmPiano = [[1.53,0.413],[1.81,0.431],[2.03,0.479],[2.25,0.528],[2.47,0.552],[2.69,0.576],[2.90,0.516],[3.12,0.455],[3.34,0.358],[3.56,0.383],[3.78,0.492],[4.00,0.528],[4.21,0.479],[4.43,0.310],[4.65,0.189],[4.87,0.128],[5.20,0.116],[5.52,0.116],[5.85,0.104],[6.07,0.116],[6.29,0.140],[6.51,0.213],[6.72,0.237],[6.94,0.274],[7.16,0.298],[7.38,0.310],[7.60,0.358],[7.82,0.358],[8.03,0.383],[8.25,0.407],[8.47,0.407],[8.69,0.431],[8.91,0.419],[9.13,0.443],[9.34,0.455],[9.56,0.455],[9.78,0.504],[10.00,0.552],[10.22,0.540],[10.44,0.479],[10.66,0.383],[10.87,0.358],[11.09,0.383],[11.31,0.455],[11.53,0.504],[11.75,0.552],[11.97,0.540],[12.18,0.504],[12.40,0.552],[12.62,0.552],[12.84,0.528],[13.06,0.576],[13.28,0.504],[13.49,0.358],[13.71,0.262],[13.93,0.140],[14.15,0.116],[14.37,0.128],[14.59,0.189],[14.80,0.237],[15.02,0.262],[15.24,0.213],[15.46,0.116],[15.68,0.092],[15.90,0.068],[16.11,0.092],[16.33,0.140],[16.55,0.189],[16.77,0.213],[16.99,0.237],[17.21,0.310],[17.42,0.383],[17.64,0.504],[17.86,0.552],[18.08,0.455],[18.30,0.358],[18.52,0.310],[18.73,0.310],[18.95,0.334],[19.17,0.310],[19.39,0.286],[19.61,0.237],[19.83,0.213],[20.04,0.189],[20.26,0.213],[20.48,0.237],[20.70,0.262],[20.92,0.286],[21.14,0.274],[21.35,0.213],[21.57,0.310],[21.79,0.383],[22.01,0.431],[22.23,0.455],[22.45,0.431]];
const dLstmMel = [[1.53,0.328],[1.81,0.328],[2.03,0.383],[2.25,0.479],[2.47,0.540],[2.69,0.613],[2.90,0.649],[3.06,0.685],[3.23,0.649],[3.45,0.576],[3.67,0.504],[3.89,0.455],[4.10,0.516],[4.32,0.479],[4.54,0.455],[4.76,0.383],[4.98,0.310],[5.20,0.213],[5.41,0.165],[5.63,0.140],[5.85,0.128],[6.07,0.140],[6.29,0.165],[6.51,0.189],[6.72,0.262],[6.94,0.286],[7.16,0.334],[7.38,0.383],[7.60,0.431],[7.82,0.467],[8.03,0.479],[8.25,0.504],[8.47,0.492],[8.69,0.455],[8.91,0.431],[9.13,0.383],[9.34,0.383],[9.56,0.407],[9.78,0.383],[10.00,0.431],[10.22,0.467],[10.44,0.504],[10.66,0.492],[10.87,0.467],[11.09,0.431],[11.31,0.479],[11.53,0.528],[11.75,0.552],[11.97,0.576],[12.18,0.600],[12.40,0.625],[12.62,0.649],[12.84,0.600],[13.06,0.540],[13.28,0.455],[13.49,0.358],[13.71,0.286],[13.93,0.262],[14.15,0.213],[14.37,0.201],[14.59,0.213],[14.80,0.225],[15.02,0.213],[15.24,0.225],[15.46,0.237],[15.68,0.213],[15.90,0.286],[16.11,0.237],[16.33,0.262],[16.55,0.286],[16.77,0.298],[16.99,0.310],[17.21,0.310],[17.42,0.286],[17.64,0.237],[17.86,0.213],[18.08,0.225],[18.30,0.237],[18.52,0.213],[18.73,0.189],[18.95,0.201],[19.17,0.189],[19.39,0.165],[19.61,0.140],[19.83,0.128],[20.04,0.140],[20.26,0.165],[20.48,0.189],[20.70,0.213],[20.92,0.237],[21.14,0.262],[21.35,0.274],[21.57,0.286],[22.01,0.274],[22.66,0.262]];

// ---------- drawing ----------
const tickFont = { family: "DejaVu Sans", size: 8.5 };

// grey piano-roll stripes behind the notes, plus the frame round the axes
const rollBackground = {
    id: "rollBackground",
    beforeDatasetsDraw(chart) {
        const { ctx, chartArea: area, scales: { yPitch } } = chart;
        ctx.save();
        ctx.beginPath();
        ctx.rect(area.left, area.top, area.width, area.height);
        ctx.clip();
        for (let p = Math.ceil(yPitch.min); p <= Math.floor(yPitch.max); p++) {
            const top = yPitch.getPixelForValue(p + 0.5);
            const bottom = yPitch.getPixelForValue(p - 0.5);
            const h = bottom - top;
            ctx.fillStyle = "#c0c0c0";
            ctx.fillRect(area.left, top, area.width, h);
            ctx.fillStyle = "#f4f4f4";
            ctx.fillRect(area.left, top + h * 0.42, area.width, h * 0.34);
            ctx.fillStyle = "#363636";
            ctx.fillRect(area.left, top, area.width, 0.9);
        }
        ctx.restore();
    },
    afterDraw(chart) {
        const { ctx, chartArea: area } = chart;
        ctx.save();
        ctx.strokeStyle = "#000";
        ctx.lineWidth = 1;
        ctx.strokeRect(area.left + 0.5, area.top + 0.5, area.width - 1, area.height - 1);
        ctx.restore();
    },
};

function noteSegments(notes) {
    const pts = [];
    notes.forEach(([start, end, pitch]) => {
        pts.push({ x: start, y: pitch }, { x: end, y: pitch }, { x: end, y: null });
    });
    return pts;
}

function toPoints(series) {
    return series.map(([t, v]) => ({ x: t, y: v }));
}

function makeChart(id, xMax, xTicks, decimalSep, notes, series) {
    const ctx = document.getElementById(id);
    const datasets = [{
        label: "notes",
        data: noteSegments(notes),
        yAxisID: "yPitch",
        borderColor: "#000080",
        borderWidth: 5.5,
        borderCapStyle: "butt",
        pointRadius: 0,
        spanGaps: false,
        order: 100,
    }];
    series.forEach((s, i) => {
        datasets.push({
            label: seriesNames[i],
            data: toPoints(s),
            yAxisID: "yVal",
            borderColor: seriesColors[i],
            borderWidth: 1.4,
            pointRadius: 0,
            tension: 0,
            order: 10 - i,
        });
    });

    new Chart(ctx, {
        type: "line",
        data: { datasets },
        options: {
            responsive: false,
            animation: false,
            events: [],
            layout: { padding: { top: 10, left: 0, right: 0, bottom: 0 } },
            plugins: { legend: { display: false }, tooltip: { enabled: false } },
            scales: {
                x: {
                    type: "linear",
                    min: 0,
                    max: xMax,
                    afterBuildTicks: (scale) => { scale.ticks = xTicks.map((v) => ({ value: v })); },
                    afterFit: (scale) => { scale.height = 18; },
                    grid: { drawOnChartArea: false, drawTicks: true, tickLength: 4, color: "#000" },
                    border: { display: false },
                    ticks: {
                        font: tickFont,
                        color: "#000",
                        padding: 2,
                        maxRotation: 0,
                        autoSkip: false,
                        callback: (v) => v.toFixed(1).replace(".", decimalSep),
                    },
                },
                yPitch: {
                    type: "linear",
                    position: "left",
                    min: 29.5,
                    max: 89.5,
                    afterBuildTicks: (scale) => { scale.ticks = pitchTicks.map((v) => ({ value: v })); },
                    afterFit: (scale) => { scale.width = 40; },
                    grid: { drawOnChartArea: false, drawTicks: true, tickLength: 4, color: "#000" },
                    border: { display: false },
                    ticks: {
                        font: tickFont,
                        color: "#000",
                        padding: 3,
                        autoSkip: false,
                        callback: (v) => pitchLabels[pitchTicks.indexOf(v)],
                    },
                },
                yVal: {
                    type: "linear",
                    position: "right",
                    min: 0,
                    max: 1,
                    afterBuildTicks: (scale) => { scale.ticks = bachTicks.map((v) => ({ value: v })); },
                    afterFit: (scale) => { scale.width = 32; },
                    grid: { drawOnChartArea: false, drawTicks: true, tickLength: 4, color: "#000" },
                    border: { display: false },
                    ticks: {
                        font: tickFont,
                        color: "#000",
                        padding: 3,
                        autoSkip: false,
                        callback: (v) => v.toFixed(1).replace(".", ","),
                    },
                },
            },
        },
        plugins: [rollBackground],
    });
}

// legend along the top
const legendBox = document.getElementById("legend");
seriesNames.forEach((name, i) => {
    const item = document.createElement("div");
    item.className = "item";
    item.innerHTML = `<span class="swatch" style="background:${seriesColors[i]}"></span>${name}`;
    legendBox.appendChild(item);
});

makeChart("chart-a", 19.2, aTimeTicks, ",", aNotes, [aMlp, aCnnPiano, aCnnMel, aCnnMfcc, aLstmPiano, aLstmMel]);
makeChart("chart-b", 27.45, bTimeTicks, ",", bNotes, [bMlp, bCnnPiano, bCnnMel, bCnnMfcc, bLstmPiano, bLstmMel]);
makeChart("chart-c", 31.2, cTimeTicks, ".", cNotes, [cMlp, cCnnPiano, cCnnMel, cCnnMfcc, cLstmPiano, cLstmMel]);
makeChart("chart-d", 24.0, dTimeTicks, ".", dNotes, [dMlp, dCnnPiano, dCnnMel, dCnnMfcc, dLstmPiano, dLstmMel]);
</script>
</body>
</html>
